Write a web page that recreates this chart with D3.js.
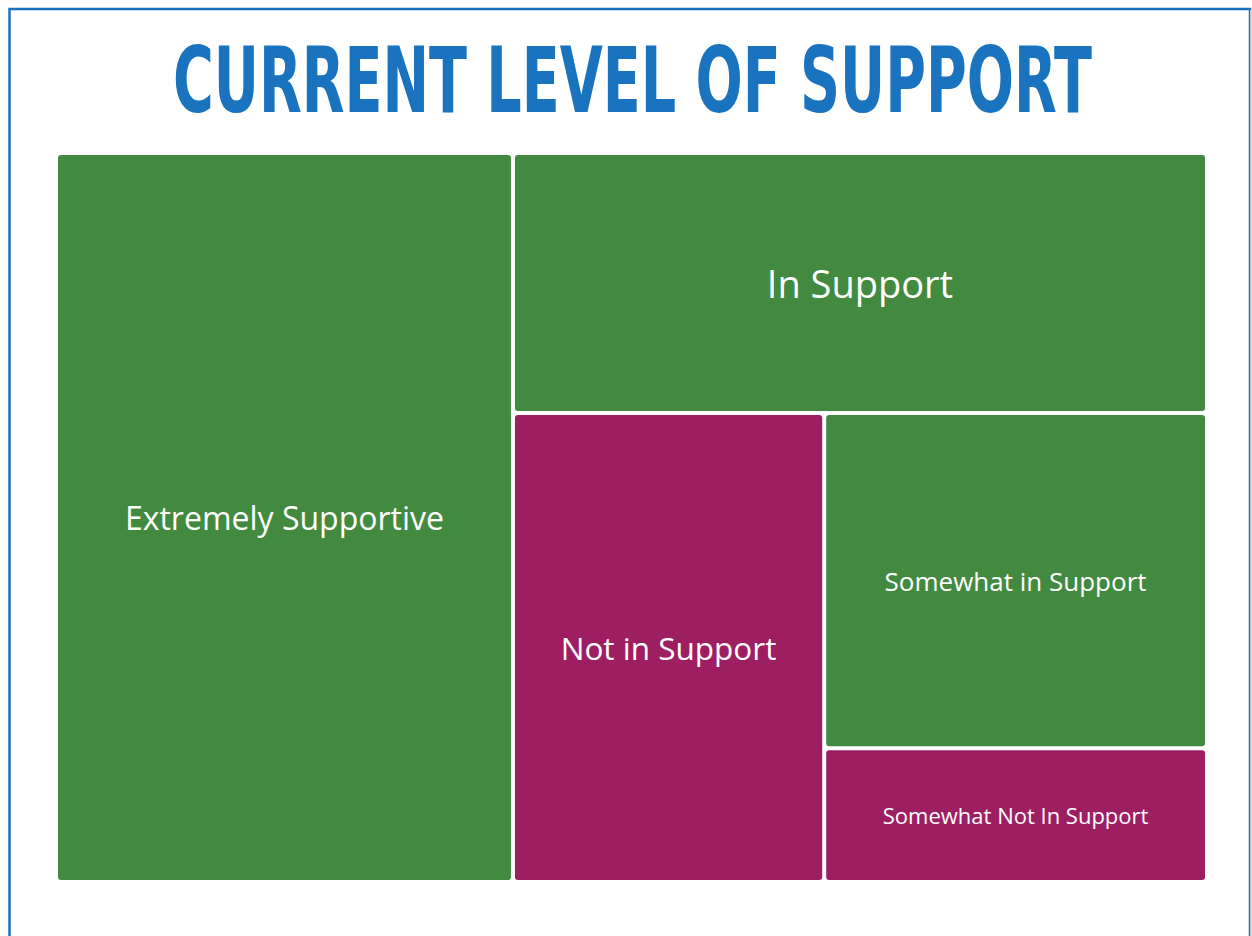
<!DOCTYPE html>
<html>
<head>
<meta charset="utf-8">
<script src="https://cdn.jsdelivr.net/npm/d3@7"></script>
<style>
  body { margin: 0; background: #fff; }
  svg { display: block; }
</style>
</head>
<body>
<svg width="1252" height="936"></svg>
<script>
// data
var categories = ["Extremely Supportive", "In Support", "Not in Support", "Somewhat in Support", "Somewhat Not In Support"];
var values = [39.7, 21.5, 17.4, 15.3, 6.1];
var groups = ["support", "support", "not", "support", "not"];
var labelSizes = [32, 38, 31.5, 26, 22];

var svg = d3.select("svg"),
    width = +svg.attr("width"),
    height = +svg.attr("height");

var colorScale = d3.scaleOrdinal()
    .domain(["support", "not"])
    .range(["#418a40", "#9e1e62"]);

// frame
svg.append("rect")
    .attr("x", 9.5).attr("y", 9).attr("width", 1240.5).attr("height", 940)
    .attr("fill", "none").attr("stroke", "#1a73be").attr("stroke-width", 2.5);
svg.append("line")
    .attr("x1", 1250.5).attr("x2", 1250.5).attr("y1", 10).attr("y2", 936)
    .attr("stroke", "#c8c8c8").attr("stroke-width", 1);

// title, squeezed to the width of the original
var title = svg.append("text")
    .attr("x", 0).attr("y", 0)
    .style("font-family", "'DejaVu Sans Condensed', 'DejaVu Sans', sans-serif")
    .style("font-weight", "bold")
    .style("font-size", "90px")
    .attr("fill", "#1a73be")
    .text("CURRENT LEVEL OF SUPPORT");
var tw = title.node().getComputedTextLength();
var sx = 919 / tw;
title.attr("transform", "translate(173,112) scale(" + sx + ",1)");

var data = {
    name: "root",
    children: categories.map(function(c, i) {
        return { name: c, value: values[i], group: groups[i], size: labelSizes[i] };
    })
};

var root = d3.hierarchy(data).sum(function(d) { return d.value || 0; });

d3.treemap()
    .tile(d3.treemapBinary)
    .size([1147, 725])
    .paddingInner(4)
    (root);

var g = svg.append("g").attr("transform", "translate(58,155)");

var cell = g.selectAll("g")
    .data(root.leaves())
    .enter().append("g");

cell.append("rect")
    .attr("x", function(d) { return d.x0; })
    .attr("y", function(d) { return d.y0; })
    .attr("width", function(d) { return d.x1 - d.x0; })
    .attr("height", function(d) { return d.y1 - d.y0; })
    .attr("rx", 3)
    .attr("fill", function(d) { return colorScale(d.data.group); });

cell.append("text")
    .attr("x", function(d) { return (d.x0 + d.x1) / 2; })
    .attr("y", function(d) { return (d.y0 + d.y1) / 2; })
    .attr("text-anchor", "middle")
    .attr("dominant-baseline", "central")
    .style("font-family", "'Open Sans', sans-serif")
    .style("font-size", function(d) { return d.data.size + "px"; })
    .attr("fill", "#fff")
    .text(function(d) { return d.data.name; });
</script>
</body>
</html>
